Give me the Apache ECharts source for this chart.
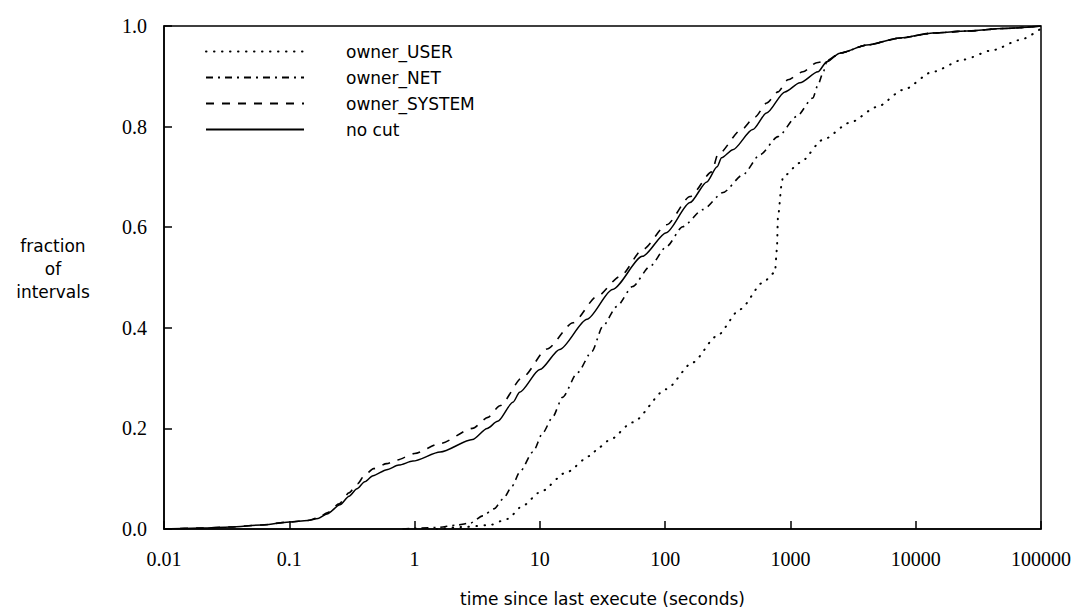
<!DOCTYPE html>
<html>
<head>
<meta charset="utf-8">
<script src="https://cdn.jsdelivr.net/npm/echarts@6/dist/echarts.min.js"></script>
<style>
html,body{margin:0;padding:0;background:#fff;}
#chart{width:1077px;height:612px;}
</style>
</head>
<body>
<div id="chart"></div>
<script>
// ---- data (x = seconds, y = fraction of intervals) ----
const seriesNames = ['owner_USER', 'owner_NET', 'owner_SYSTEM', 'no cut'];
const xTickLabels = ['0.01', '0.1', '1', '10', '100', '1000', '10000', '100000'];
const yTickLabels = ['0.0', '0.2', '0.4', '0.6', '0.8', '1.0'];

const ownerUser = [
  [1.5,0],[2.5,0.004],[4,0.008],[5.5,0.02],[7.3,0.046],[10,0.073],[16.4,0.113],[25,0.145],
  [30,0.163],[36,0.177],[55,0.212],[102,0.278],[166,0.331],[257,0.383],[398,0.437],[603,0.49],
  [752,0.51],[780,0.556],[795,0.62],[855,0.689],[870,0.70],[1190,0.728],[1820,0.774],[2990,0.808],
  [4900,0.839],[7940,0.873],[13700,0.909],[23800,0.933],[41300,0.952],[67600,0.972],[100000,0.995]
];
const ownerNet = [
  [0.8,0],[1.5,0.003],[2.2,0.008],[2.8,0.012],[3.5,0.026],[4.3,0.04],[5.1,0.06],[6,0.085],
  [6.9,0.113],[8.8,0.153],[10.6,0.192],[12.6,0.222],[15.2,0.262],[20,0.311],[26,0.353],[31.8,0.403],
  [41,0.442],[55,0.482],[75.6,0.522],[103,0.562],[138,0.601],[200,0.635],[290,0.669],[417,0.704],
  [571,0.744],[795,0.78],[1120,0.82],[1510,0.857],[1660,0.883],[1820,0.907],[1950,0.929],[2480,0.946],
  [4070,0.962],[7480,0.976],[13700,0.986],[25700,0.99],[50000,0.995],[100000,1.0]
];
const ownerSystem = [
  [0.01,0],[0.02,0.002],[0.034,0.004],[0.06,0.008],[0.1,0.014],[0.14,0.017],[0.17,0.022],[0.2,0.032],
  [0.25,0.05],[0.3,0.072],[0.35,0.09],[0.4,0.107],[0.47,0.12],[0.6,0.13],[0.72,0.137],[1.0,0.15],
  [1.6,0.17],[2.9,0.2],[3.85,0.222],[4.8,0.245],[7.3,0.302],[11.4,0.358],[18.4,0.41],[28.5,0.462],
  [43.6,0.502],[66.5,0.556],[103,0.605],[158,0.661],[236,0.71],[263,0.744],[407,0.794],[521,0.819],
  [648,0.847],[795,0.869],[955,0.893],[1260,0.909],[1620,0.927],[1950,0.931],[2480,0.946],
  [4070,0.962],[7480,0.976],[13700,0.986],[25700,0.99],[50000,0.995],[100000,1.0]
];
const noCut = [
  [0.01,0],[0.02,0.002],[0.034,0.004],[0.06,0.008],[0.1,0.014],[0.14,0.017],[0.17,0.021],[0.2,0.03],
  [0.254,0.048],[0.3,0.065],[0.347,0.08],[0.4,0.094],[0.466,0.106],[0.6,0.118],[0.75,0.127],[0.97,0.135],
  [1.6,0.153],[2.9,0.178],[3.8,0.2],[4.6,0.214],[6.1,0.252],[6.9,0.272],[10,0.317],[14.4,0.357],
  [23.8,0.417],[38,0.476],[66,0.542],[102,0.589],[158,0.649],[215,0.69],[260,0.72],[282,0.738],
  [347,0.754],[500,0.794],[645,0.827],[903,0.869],[1190,0.887],[1660,0.909],[1950,0.929],[2480,0.946],
  [4070,0.962],[7480,0.976],[13700,0.986],[25700,0.99],[50000,0.995],[100000,1.0]
];

const seriesData = [ownerUser, ownerNet, ownerSystem, noCut];
const lineTypes = [[0.5, 7.5], [7, 5, 2, 5], [8, 8], 'solid'];
const lineWidths = [2, 1.6, 1.6, 1.5];

const chart = echarts.init(document.getElementById('chart'), null, {renderer: 'svg'});

const series = seriesNames.map((name, i) => ({
  name: name,
  type: 'line',
  data: seriesData[i],
  showSymbol: false,
  symbol: 'none',
  smooth: 0.25,
  smoothMonotone: 'x',
  lineStyle: {color: '#000', width: lineWidths[i], type: lineTypes[i], cap: i === 0 ? 'round' : 'butt'},
  itemStyle: {color: '#000'},
  z: 10 - i
}));

chart.setOption({
  animation: false,
  backgroundColor: '#fff',
  grid: {left: 164, right: 36, top: 26, bottom: 82, show: true, borderColor: '#000', borderWidth: 1.5, backgroundColor: 'transparent'},
  legend: {
    orient: 'vertical',
    left: 200,
    top: 38,
    itemWidth: 98,
    itemHeight: 14,
    itemGap: 9,
    data: seriesNames,
    itemStyle: {opacity: 0, borderWidth: 0},
    textStyle: {fontFamily: 'DejaVu Sans', fontSize: 17, color: '#000', padding: [0, 0, 0, 37]}
  },
  xAxis: {
    type: 'log',
    logBase: 10,
    min: 0.01,
    max: 100000,
    splitNumber: 7,
    name: 'time since last execute (seconds)',
    nameLocation: 'middle',
    nameGap: 61,
    nameTextStyle: {fontFamily: 'DejaVu Sans', fontSize: 17, color: '#000'},
    axisLine: {show: true, lineStyle: {color: '#000', width: 1.5}},
    axisTick: {show: true, inside: true, length: 8, lineStyle: {color: '#000', width: 1.5}},
    minorTick: {show: false},
    splitLine: {show: false},
    axisLabel: {
      margin: 20,
      fontFamily: 'Liberation Serif',
      fontSize: 20,
      color: '#000',
      formatter: function (v) {
        const k = Math.round(Math.log10(v)) + 2;
        return xTickLabels[k] !== undefined ? xTickLabels[k] : '';
      }
    }
  },
  yAxis: {
    type: 'value',
    min: 0,
    max: 1,
    interval: 0.2,
    axisLine: {show: true, lineStyle: {color: '#000', width: 1.5}},
    axisTick: {show: true, inside: true, length: 8, lineStyle: {color: '#000', width: 1.5}},
    splitLine: {show: false},
    axisLabel: {
      margin: 17,
      fontFamily: 'Liberation Serif',
      fontSize: 20,
      color: '#000',
      formatter: function (v) {
        const k = Math.round(v / 0.2);
        return yTickLabels[k] !== undefined ? yTickLabels[k] : '';
      }
    }
  },
  graphic: [{
    type: 'text',
    x: 53,
    y: 234,
    style: {
      text: 'fraction\nof\nintervals',
      align: 'center',
      verticalAlign: 'top',
      fontFamily: 'DejaVu Sans',
      fontSize: 17,
      lineHeight: 23,
      fill: '#000'
    }
  }],
  series: series
});
</script>
</body>
</html>
